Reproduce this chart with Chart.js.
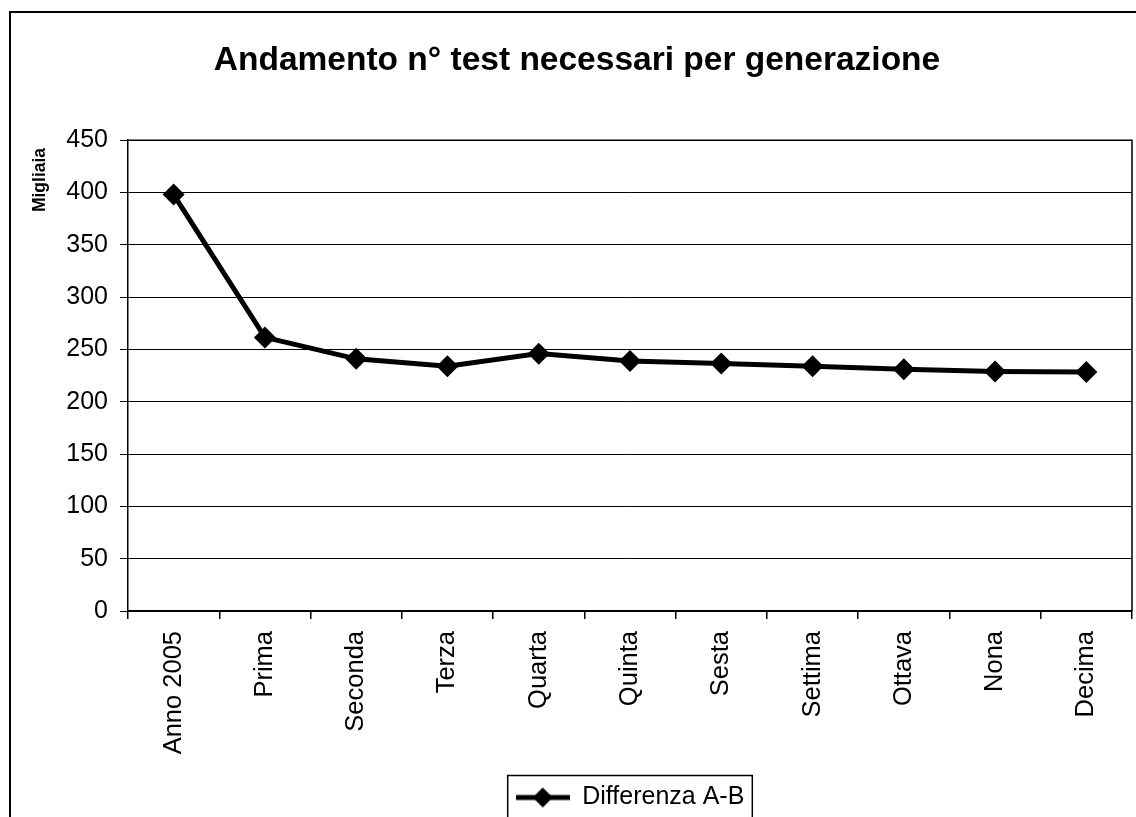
<!DOCTYPE html>
<html>
<head>
<meta charset="utf-8">
<script src="https://cdn.jsdelivr.net/npm/chart.js@4"></script>
<style>
    html, body { margin: 0; padding: 0; background: #fff; }
    #wrap { width: 1136px; height: 817px; }
</style>
</head>
<body>
<div id="wrap"><canvas id="chart" width="1136" height="817"></canvas></div>
<script>
// Data (migliaia)
const generazioni = ['Anno 2005', 'Prima', 'Seconda', 'Terza', 'Quarta', 'Quinta',
    'Sesta', 'Settima', 'Ottava', 'Nona', 'Decima'];
const differenzaAB = [398, 261.5, 241, 234, 246, 239, 236.5, 234, 231, 229, 228.5];
const yTicks = [0, 50, 100, 150, 200, 250, 300, 350, 400, 450];

const FONT = "'Liberation Sans', Arial, sans-serif";

// legend symbol: line with a diamond in the middle
function legendSymbol() {
    const c = document.createElement('canvas');
    c.width = 54;
    c.height = 24;
    const g = c.getContext('2d');
    g.strokeStyle = '#000';
    g.lineWidth = 5;
    g.beginPath();
    g.moveTo(0, 12);
    g.lineTo(54, 12);
    g.stroke();
    g.fillStyle = '#000';
    g.beginPath();
    g.moveTo(27, 2);
    g.lineTo(37, 12);
    g.lineTo(27, 22);
    g.lineTo(17, 12);
    g.closePath();
    g.fill();
    return c;
}

const framePlugin = {
    id: 'frame',
    afterLayout(chart) {
        // the legend sits centred under the plot area, not the canvas
        const lg = chart.legend;
        const a = chart.chartArea;
        const dx = (a.left + a.right) / 2 - (lg.left + lg.right) / 2;
        const dy = 5;
        lg.left += dx; lg.right += dx;
        lg.top += dy; lg.bottom += dy;
        lg.legendHitBoxes.forEach(h => { h.left += dx; h.top += dy; });
        // title is a little right of centre
        const tb = chart.titleBlock;
        tb.left += 11; tb.right += 11;
    },
    beforeDraw(chart) {
        const ctx = chart.ctx;
        ctx.save();
        ctx.fillStyle = '#fff';
        ctx.fillRect(0, 0, chart.width, chart.height);
        ctx.strokeStyle = '#000';
        ctx.lineWidth = 2;
        ctx.beginPath();
        ctx.moveTo(10, chart.height);
        ctx.lineTo(10, 12);
        ctx.lineTo(chart.width, 12);
        ctx.stroke();
        ctx.restore();
    },
    afterDraw(chart) {
        const ctx = chart.ctx;
        const a = chart.chartArea;
        ctx.save();
        ctx.strokeStyle = '#000';
        ctx.lineWidth = 1.5;
        ctx.beginPath();
        ctx.moveTo(a.left, a.top);
        ctx.lineTo(a.right, a.top);
        ctx.lineTo(a.right, a.bottom);
        ctx.stroke();
        // legend border
        const hb = chart.legend.legendHitBoxes[0];
        if (hb) {
            ctx.lineWidth = 1.5;
            ctx.strokeRect(hb.left - 8, hb.top + hb.height / 2 - 27, hb.width + 16, 70);
        }
        // y axis unit label, near the top
        ctx.translate(40, 180);
        ctx.rotate(-Math.PI / 2);
        ctx.fillStyle = '#000';
        ctx.font = "bold 17.5px " + FONT;
        ctx.textAlign = 'center';
        ctx.textBaseline = 'middle';
        ctx.fillText('Migliaia', 0, 0);
        ctx.restore();
    }
};

new Chart(document.getElementById('chart'), {
    type: 'line',
    data: {
        labels: generazioni,
        datasets: [{
            label: 'Differenza A-B',
            data: differenzaAB,
            borderColor: '#000',
            backgroundColor: '#000',
            borderWidth: 5,
            tension: 0,
            pointStyle: 'rectRot',
            pointRadius: 11,
            pointHoverRadius: 11,
            pointBackgroundColor: '#000',
            pointBorderWidth: 0
        }]
    },
    options: {
        responsive: false,
        animation: false,
        devicePixelRatio: 1,
        layout: { autoPadding: false, padding: { left: 0, right: 4, top: 0, bottom: 2 } },
        plugins: {
            title: {
                display: true,
                text: 'Andamento n° test necessari per generazione',
                color: '#000',
                font: { family: FONT, size: 33.5, weight: 'bold' },
                padding: { top: 41, bottom: 59 }
            },
            legend: {
                position: 'bottom',
                labels: {
                    color: '#000',
                    font: { family: FONT, size: 25 },
                    usePointStyle: true,
                    pointStyleWidth: 54,
                    padding: 12,
                    generateLabels: () => [{
                        text: 'Differenza A-B',
                        pointStyle: legendSymbol(),
                        fillStyle: '#000',
                        strokeStyle: '#000',
                        lineWidth: 0,
                        fontColor: '#000',
                        datasetIndex: 0
                    }]
                }
            },
            tooltip: { enabled: false }
        },
        scales: {
            x: {
                offset: true,
                grid: {
                    offset: true,
                    drawOnChartArea: false,
                    drawTicks: true,
                    tickLength: 8,
                    color: '#000',
                    lineWidth: 1.5
                },
                border: { color: '#000', width: 1.5 },
                ticks: {
                    color: '#000',
                    font: { family: FONT, size: 25.5 },
                    minRotation: 90,
                    maxRotation: 90,
                    padding: 12,
                    autoSkip: false
                },
                afterFit: s => {
                    s.height = 157;
                    s.paddingLeft = 0;
                    s.paddingRight = 0;
                }
            },
            y: {
                min: 0,
                max: 450,
                afterBuildTicks: s => { s.ticks = yTicks.map(v => ({ value: v })); },
                grid: {
                    color: '#000',
                    lineWidth: 1,
                    tickLength: 8
                },
                border: { color: '#000', width: 1.5 },
                ticks: {
                    color: '#000',
                    font: { family: FONT, size: 25 },
                    padding: 12
                },
                afterFit: s => { s.width = 128; }
            }
        }
    },
    plugins: [framePlugin]
});
</script>
</body>
</html>
